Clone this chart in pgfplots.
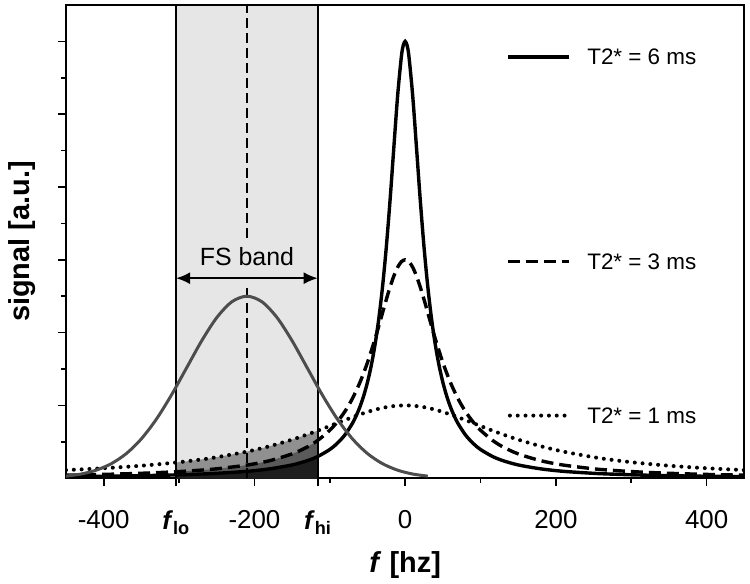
\documentclass[border=0pt]{standalone}
\usepackage{pgfplots}
\pgfplotsset{compat=1.18}
\usepgfplotslibrary{fillbetween}
\usetikzlibrary{calc,arrows.meta}
\usepackage{fontspec}
\setmainfont{Liberation Sans}
\definecolor{bandgray}{HTML}{E6E6E6}
\definecolor{fillA}{HTML}{909090}
\definecolor{fillB}{HTML}{5A5A5A}
\definecolor{fillC}{HTML}{1E1E1E}
\definecolor{gaussgray}{HTML}{4D4D4D}
\begin{document}
\begin{tikzpicture}
\begin{axis}[
  set layers,
  scale only axis, width=678bp, height=473bp,
  xmin=-450, xmax=450, ymin=0, ymax=6.5,
  axis line style={line width=1.7bp},
  xtick={-400,-304,-200,-116,0,200,400},
  xticklabels={-400,{\textbf{\textit{f}}\textsubscript{\textbf{lo}}},-200,{\textbf{\textit{f}}\textsubscript{\textbf{hi}}},0,200,400},
  minor xtick={-300,-100,100,300},
  ytick={1,2,3,4,5,6},
  minor ytick={0.5,1.5,2.5,3.5,4.5,5.5},
  yticklabels={},
  tick align=outside,
  xtick pos=lower, ytick pos=left,
  major tick length=8bp, minor tick length=5bp,
  every tick/.style={black, line width=1.7bp},
  minor tick style={black, line width=1.7bp},
  major tick style={black, line width=1.7bp},
  ticklabel style={font=\fontsize{26}{31}\selectfont},
  xticklabel style={yshift=-21bp},
  xlabel={\textbf{\textit{f} [hz]}},
  ylabel={\textbf{signal [a.u.]}},
  every axis x label/.style={at={(axis description cs:0.5,-0.184)}, anchor=center, font=\fontsize{29}{34}\selectfont\bfseries},
  every axis y label/.style={at={(axis description cs:-0.065,0.5)}, anchor=center, rotate=90, font=\fontsize{29}{34}\selectfont\bfseries},
]
% FS band background
\addplot[on layer=axis background, fill=bandgray, draw=none, forget plot]
  coordinates {(-304,0) (-304,6.5) (-116,6.5) (-116,0)} \closedcycle;

\addplot[draw=none, name path=base, forget plot] coordinates {(-450,0) (450,0)};

% T2* = 1 ms
\addplot[name path=L1, black, line width=4bp, line cap=round, dash pattern=on 0bp off 7.8bp, smooth] coordinates {
(-450,0.1112) (-400,0.1367) (-350,0.1713) (-304,0.2151) (-270,0.2579) (-250,0.2884) (-210,0.3648) (-180,0.4388) (-150,0.5296) (-130,0.5998) (-116,0.6531) (-100,0.7169) (-80,0.7983) (-60,0.8756) (-40,0.9406) (-20,0.9845) (0,1)
(20,0.9845) (40,0.9406) (60,0.8756) (80,0.7983) (100,0.7169) (116,0.6531) (130,0.5998) (150,0.5296) (180,0.4388) (210,0.3648) (250,0.2884) (270,0.2579) (304,0.2151) (350,0.1713) (400,0.1367) (450,0.1112)};

% T2* = 3 ms
\addplot[name path=L3, black, line width=3.4bp, dash pattern=on 12bp off 6bp, smooth] coordinates {
(-450,0.0411) (-400,0.0519) (-350,0.0674) (-304,0.0887) (-270,0.1115) (-250,0.129) (-210,0.180) (-180,0.240) (-150,0.334) (-130,0.428) (-116,0.519) (-100,0.659) (-90,0.774) (-80,0.916) (-70,1.094) (-60,1.316) (-50,1.589) (-40,1.913) (-35,2.090) (-30,2.273) (-25,2.455) (-20,2.627) (-15,2.778) (-10,2.897) (-5,2.974) (0,3)
(5,2.974) (10,2.897) (15,2.778) (20,2.627) (25,2.455) (30,2.273) (35,2.090) (40,1.913) (50,1.589) (60,1.316) (70,1.094) (80,0.916) (90,0.774) (100,0.659) (116,0.519) (130,0.428) (150,0.334) (180,0.240) (210,0.180) (250,0.129) (270,0.1115) (304,0.0887) (350,0.0674) (400,0.0519) (450,0.0411)};

% T2* = 6 ms
\addplot[name path=L6, black, line width=3.4bp, smooth] coordinates {
(-450,0.0208) (-400,0.0263) (-350,0.0343) (-304,0.0453) (-270,0.0574) (-250,0.0668) (-210,0.0942) (-180,0.128) (-150,0.182) (-130,0.240) (-116,0.298) (-100,0.394) (-90,0.480) (-80,0.594) (-70,0.753) (-65,0.857) (-60,0.981) (-55,1.132) (-50,1.318) (-45,1.547) (-40,1.833) (-35,2.189) (-30,2.633) (-25,3.177) (-20,3.825) (-15,4.546) (-10,5.253) (-5,5.794) (-2.5,5.947) (0,6)
(2.5,5.947) (5,5.794) (10,5.253) (15,4.546) (20,3.825) (25,3.177) (30,2.633) (35,2.189) (40,1.833) (45,1.547) (50,1.318) (55,1.132) (60,0.981) (65,0.857) (70,0.753) (80,0.594) (90,0.480) (100,0.394) (116,0.298) (130,0.240) (150,0.182) (180,0.128) (210,0.0942) (250,0.0668) (270,0.0574) (304,0.0453) (350,0.0343) (400,0.0263) (450,0.0208)};

% fills inside FS band
\addplot[fill=fillA, draw=none] fill between[of=L1 and base, soft clip={domain=-304:-116}];
\addplot[fill=fillB, draw=none] fill between[of=L3 and base, soft clip={domain=-304:-116}];
\addplot[fill=fillC, draw=none] fill between[of=L6 and base, soft clip={domain=-304:-116}];

% band edges and centre
\addplot[black, line width=1.7bp] coordinates {(-304,0) (-304,6.5)};
\addplot[black, line width=1.7bp] coordinates {(-116,0) (-116,6.5)};
\addplot[black, line width=1.7bp, dash pattern=on 10bp off 5bp] coordinates {(-210,0) (-210,6.5)};

% fat Gaussian
\addplot[gaussgray, line width=3bp, smooth] coordinates {
(-450,0.028) (-430,0.057) (-410,0.110) (-390,0.199) (-370,0.338) (-350,0.541) (-330,0.812) (-310,1.145) (-290,1.516) (-270,1.887) (-250,2.206) (-230,2.423) (-210,2.5) (-190,2.423) (-170,2.206) (-150,1.887) (-130,1.516) (-110,1.145) (-90,0.812) (-70,0.541) (-50,0.338) (-30,0.199) (-10,0.110) (10,0.057) (30,0.028)};

% FS band annotation
\fill[bandgray] (axis cs:-300,2.62) rectangle (axis cs:-120,3.30);
\draw[{Latex[length=14bp,width=12bp]}-{Latex[length=14bp,width=12bp]}, line width=2bp] (axis cs:-304,2.747) -- (axis cs:-116,2.747);
\node[font=\fontsize{25}{30}\selectfont] at (axis cs:-210,3.045) {FS band};

% legend
\draw[black, line width=3.4bp] (axis cs:137,5.787) -- (axis cs:217,5.787);
\node[anchor=west, font=\fontsize{22.5}{27}\selectfont] at (axis cs:237,5.787) {T2* = 6 ms};
\draw[black, line width=3.4bp, dash pattern=on 12bp off 6bp] (axis cs:137,2.975) -- (axis cs:217,2.975);
\node[anchor=west, font=\fontsize{22.5}{27}\selectfont] at (axis cs:237,2.975) {T2* = 3 ms};
\draw[black, line width=4bp, line cap=round, dash pattern=on 0bp off 7.8bp] (axis cs:139,0.86) -- (axis cs:217,0.86);
\node[anchor=west, font=\fontsize{22.5}{27}\selectfont] at (axis cs:237,0.86) {T2* = 1 ms};

\coordinate (BL) at (axis description cs:0,0);
\coordinate (TR) at (axis description cs:1,1);
\end{axis}
\pgfresetboundingbox
\path ($(BL)+(-66bp,-105bp)$) rectangle ($(TR)+(5.7bp,5bp)$);
\end{tikzpicture}
\end{document}
